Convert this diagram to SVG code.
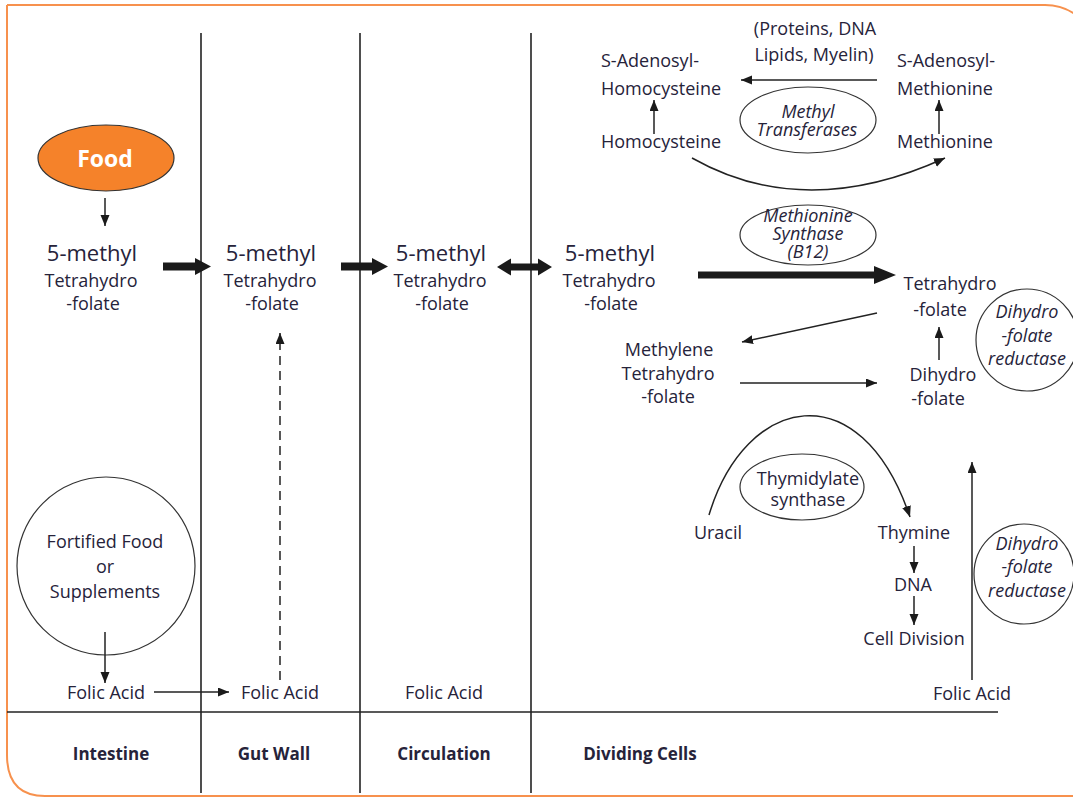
<svg xmlns="http://www.w3.org/2000/svg" width="1073" height="797" viewBox="0 0 1073 797">
<style>
text{font-family:"Open Sans","Noto Sans","Liberation Sans",sans-serif;fill:#26233a;text-anchor:middle}
.t{font-size:18px}
.big{font-size:22px}
.it{font-size:18px;font-style:italic}
.lab{font-size:17px;font-weight:bold}
.l{text-anchor:start}
.ln{stroke:#222;stroke-width:1.6;fill:none}
.ar{stroke:#222;stroke-width:1.5;fill:none;marker-end:url(#ah)}
.thick{fill:#1a1a1a}
.enz{fill:#fff;stroke:#333;stroke-width:1.2}
</style>
<defs>
<marker id="ah" markerUnits="userSpaceOnUse" markerWidth="12" markerHeight="10" refX="11" refY="4.5" orient="auto">
<path d="M0,0 L11,4.5 L0,9 z" fill="#1a1a1a"/>
</marker>
</defs>
<rect width="1073" height="797" fill="#fff"/>
<path d="M7,5 H1045 Q1073,5 1090,30" fill="none" stroke="#f7914d" stroke-width="2"/>
<path d="M7,5 V755 Q7,796 45,796 H1073" fill="none" stroke="#f7914d" stroke-width="2"/>

<g id="grid">
<line class="ln" x1="201" y1="33" x2="201" y2="793"/>
<line class="ln" x1="360" y1="33" x2="360" y2="793"/>
<line class="ln" x1="531" y1="33" x2="531" y2="793"/>
<line class="ln" x1="7" y1="712" x2="998" y2="712"/>
</g>

<g id="labels">
<text class="lab" x="111" y="760">Intestine</text>
<text class="lab" x="274" y="760">Gut Wall</text>
<text class="lab" x="444" y="760">Circulation</text>
<text class="lab" x="640" y="760">Dividing Cells</text>
</g>

<g id="food">
<ellipse cx="106" cy="158" rx="68" ry="33" fill="#f5822a" stroke="#333" stroke-width="1.2"/>
<text x="105" y="167" style="font-size:23px;font-weight:bold;fill:#fff">Food</text>
</g>

<g id="mthf1"><text class="big" x="92" y="261">5-methyl</text><text class="t"><tspan x="91" y="287">Tetrahydro</tspan><tspan x="93" y="310">-folate</tspan></text></g>
<g id="mthf2"><text class="big" x="271" y="261">5-methyl</text><text class="t"><tspan x="270" y="287">Tetrahydro</tspan><tspan x="272" y="310">-folate</tspan></text></g>
<g id="mthf3"><text class="big" x="441" y="261">5-methyl</text><text class="t"><tspan x="440" y="287">Tetrahydro</tspan><tspan x="442" y="310">-folate</tspan></text></g>
<g id="mthf4"><text class="big" x="610" y="261">5-methyl</text><text class="t"><tspan x="609" y="287">Tetrahydro</tspan><tspan x="611" y="310">-folate</tspan></text></g>

<g id="fortified">
<circle cx="106" cy="566" r="89" fill="none" stroke="#333" stroke-width="1.2"/>
<text class="t"><tspan x="105" y="548">Fortified Food</tspan><tspan x="105" y="573">or</tspan><tspan x="105" y="598">Supplements</tspan></text>
</g>
<g id="folic1"><text class="t" x="106" y="699">Folic Acid</text></g>
<g id="folic2"><text class="t" x="280" y="699">Folic Acid</text></g>
<g id="folic3"><text class="t" x="444" y="699">Folic Acid</text></g>
<g id="folic4"><text class="t" x="972" y="700">Folic Acid</text></g>

<g id="sah"><text class="t l"><tspan x="601" y="67">S-Adenosyl-</tspan><tspan x="601" y="95">Homocysteine</tspan></text></g>
<g id="sam"><text class="t l"><tspan x="897" y="67">S-Adenosyl-</tspan><tspan x="897" y="95">Methionine</tspan></text></g>
<g id="products"><text class="t"><tspan x="815" y="35">(Proteins, DNA</tspan><tspan x="814" y="61">Lipids, Myelin)</tspan></text></g>
<g id="homocysteine"><text class="t l" x="601" y="148">Homocysteine</text></g>
<g id="methionine"><text class="t l" x="897" y="148">Methionine</text></g>
<g id="methyltransferases">
<ellipse class="enz" cx="808" cy="120" rx="68" ry="33"/>
<text class="it"><tspan x="808" y="118">Methyl</tspan><tspan x="807" y="136">Transferases</tspan></text>
</g>
<g id="methioninesynthase">
<ellipse class="enz" cx="808" cy="235" rx="68" ry="30"/>
<text class="it"><tspan x="808" y="222">Methionine</tspan><tspan x="808" y="240">Synthase</tspan><tspan x="808" y="258">(B12)</tspan></text>
</g>
<g id="thf"><text class="t"><tspan x="950" y="290">Tetrahydro</tspan><tspan x="940" y="316">-folate</tspan></text></g>
<g id="dhfr1">
<circle cx="1027" cy="340" r="51" fill="none" stroke="#333" stroke-width="1.2"/>
<text class="it"><tspan x="1027" y="318">Dihydro</tspan><tspan x="1027" y="342">-folate</tspan><tspan x="1027" y="365">reductase</tspan></text>
</g>
<g id="dhf"><text class="t"><tspan x="943" y="381">Dihydro</tspan><tspan x="938" y="405">-folate</tspan></text></g>
<g id="methylene"><text class="t"><tspan x="669" y="356">Methylene</tspan><tspan x="668" y="380">Tetrahydro</tspan><tspan x="668" y="403">-folate</tspan></text></g>
<g id="thymidylate">
<ellipse class="enz" cx="802" cy="487" rx="62" ry="33"/>
<text class="t"><tspan x="808" y="485">Thymidylate</tspan><tspan x="808" y="506">synthase</tspan></text>
</g>
<g id="uracil"><text class="t" x="718" y="539">Uracil</text></g>
<g id="thymine"><text class="t" x="914" y="539">Thymine</text></g>
<g id="dna"><text class="t" x="913" y="591">DNA</text></g>
<g id="celldivision"><text class="t" x="914" y="645">Cell Division</text></g>
<g id="dhfr2">
<circle cx="1024" cy="574" r="50" fill="none" stroke="#333" stroke-width="1.2"/>
<text class="it"><tspan x="1027" y="550">Dihydro</tspan><tspan x="1027" y="573">-folate</tspan><tspan x="1027" y="597">reductase</tspan></text>
</g>

<g id="connectors">
<line class="ar" x1="105" y1="198" x2="105" y2="226"/>
<line class="ar" x1="105" y1="632" x2="105" y2="683"/>
<line class="ar" x1="154" y1="692" x2="229" y2="692"/>
<line class="ar" x1="280" y1="680" x2="280" y2="333" stroke-dasharray="9,6"/>
<polygon class="thick" points="163,262.5 195,262.5 195,258 211,266.5 195,275 195,270.5 163,270.5"/>
<polygon class="thick" points="341,262.5 372,262.5 372,258 388,266.5 372,275 372,270.5 341,270.5"/>
<polygon class="thick" points="497,267 511,258.5 511,263.5 538,263.5 538,258.5 552,267 538,275.5 538,270.5 511,270.5 511,275.5"/>
<polygon class="thick" points="698,271.5 874,271.5 874,266 896,275 874,284 874,278.5 698,278.5"/>
<line class="ar" x1="877" y1="80" x2="741" y2="80"/>
<line class="ar" x1="654" y1="134" x2="654" y2="100"/>
<line class="ar" x1="939" y1="134" x2="939" y2="100"/>
<path class="ar" d="M692,158 Q805,222 945,158"/>
<line class="ar" x1="877" y1="313" x2="742" y2="342"/>
<line class="ar" x1="740" y1="383" x2="877" y2="383"/>
<line class="ar" x1="939" y1="360" x2="939" y2="327"/>
<path class="ar" d="M709,515 C745,395 860,370 910,517"/>
<line class="ar" x1="914" y1="546" x2="914" y2="573"/>
<line class="ar" x1="914" y1="596" x2="914" y2="625"/>
<line class="ar" x1="972" y1="680" x2="972" y2="462"/>
</g>
</svg>
